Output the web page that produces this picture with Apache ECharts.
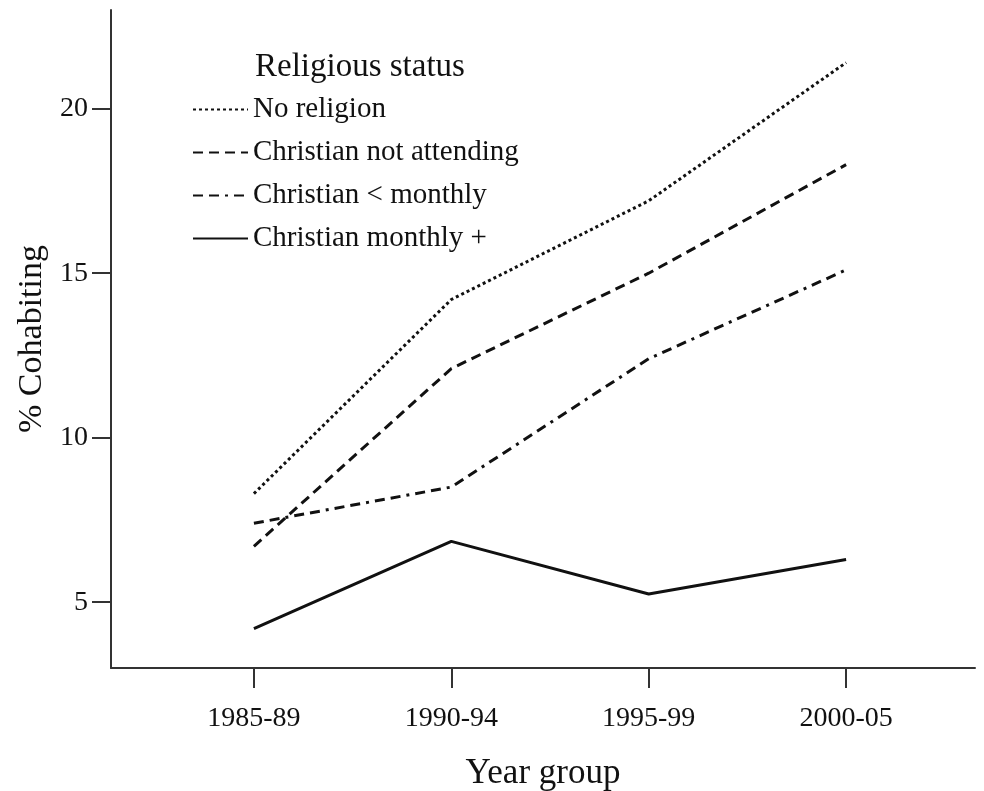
<!DOCTYPE html>
<html><head><meta charset="utf-8">
<script src="https://cdn.jsdelivr.net/npm/echarts@6/dist/echarts.min.js"></script>
<style>html,body{margin:0;padding:0;background:#fff}#c{width:984px;height:791px}</style>
</head><body><div id="c"></div>
<script>
const categories = ['1985-89', '1990-94', '1995-99', '2000-05'];
const seriesNames = ['No religion', 'Christian not attending', 'Christian < monthly', 'Christian monthly +'];
const noReligion = [8.3, 14.2, 17.2, 21.4];
const christianNotAttending = [6.7, 12.1, 15.0, 18.3];
const christianLessMonthly = [7.4, 8.5, 12.4, 15.1];
const christianMonthlyPlus = [4.2, 6.85, 5.25, 6.3];
const yTicks = [5, 10, 15, 20];

const font = 'Liberation Serif';
const ink = '#111';
const dashes = [[3, 3], [10, 6], [10, 6, 10, 6, 3, 6], null];
const values = [noReligion, christianNotAttending, christianLessMonthly, christianMonthlyPlus];

const chart = echarts.init(document.getElementById('c'));
chart.setOption({
  backgroundColor: '#fff',
  animation: false,
  title: {
    text: 'Religious status', left: 250, top: 46,
    textStyle: { fontFamily: font, fontSize: 33, fontWeight: 'normal', color: ink }
  },
  legend: {
    orient: 'vertical', left: 187, top: 90,
    itemWidth: 55, itemHeight: 14, itemGap: 14,
    data: seriesNames,
    itemStyle: { opacity: 0, borderWidth: 0 },
    textStyle: { fontFamily: font, fontSize: 29, color: ink }
  },
  grid: { left: 111, right: 9, top: 10, bottom: 123, containLabel: false, outerBoundsMode: 'none' },
  xAxis: {
    type: 'value', min: -0.724, max: 3.653,
    name: 'Year group', nameLocation: 'middle', nameGap: 88,
    nameTextStyle: { fontFamily: font, fontSize: 35, color: ink },
    axisLine: { show: true, onZero: false, lineStyle: { color: '#333', width: 2 } },
    axisTick: { show: true, inside: false, length: 20, customValues: [0, 1, 2, 3], lineStyle: { color: '#333', width: 2 } },
    axisLabel: { customValues: [0, 1, 2, 3], formatter: v => categories[Math.round(v)] || '', margin: 37, fontFamily: font, fontSize: 28, color: ink },
    splitLine: { show: false }
  },
  yAxis: {
    type: 'value', min: 3, max: 23,
    name: '% Cohabiting', nameLocation: 'middle', nameGap: 62, nameRotate: 90,
    nameTextStyle: { fontFamily: font, fontSize: 34, color: ink },
    axisLine: { show: true, onZero: false, lineStyle: { color: '#333', width: 2 } },
    axisTick: { show: true, inside: false, length: 19, customValues: yTicks, lineStyle: { color: '#333', width: 2 } },
    axisLabel: { customValues: yTicks, margin: 23, fontFamily: font, fontSize: 28, color: ink },
    splitLine: { show: false }
  },
  series: seriesNames.map((n, i) => ({
    name: n, type: 'line', symbol: 'none',
    data: values[i].map((v, j) => [j, v]),
    color: ink,
    lineStyle: { color: ink, width: 3, type: dashes[i] || 'solid' }
  }))
});
</script></body></html>
